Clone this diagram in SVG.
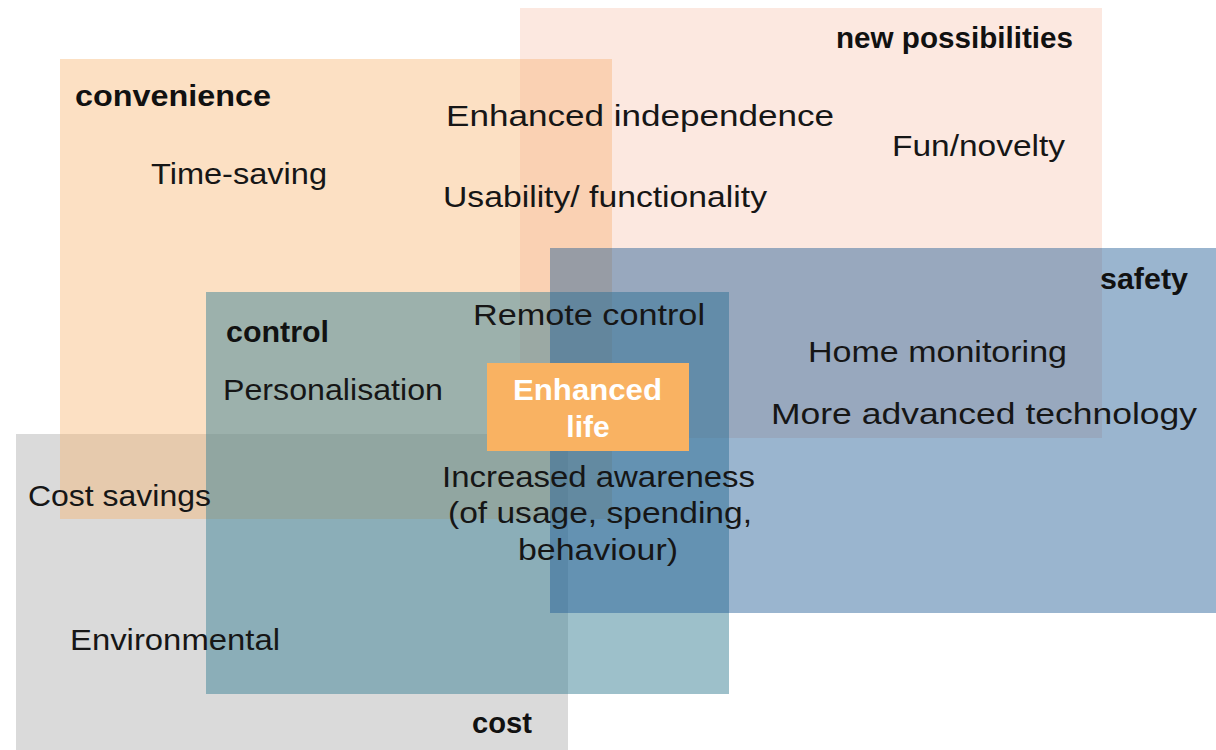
<svg xmlns="http://www.w3.org/2000/svg" width="1216" height="750" viewBox="0 0 1216 750">
  <style>
    .t { font-family: "Liberation Sans", Arial, sans-serif; font-size: 30px; fill: #161616; }
    .h { font-family: "Liberation Sans", Arial, sans-serif; font-size: 29px; font-weight: bold; fill: #111111; }
    .w { font-family: "Liberation Sans", Arial, sans-serif; font-size: 30px; font-weight: bold; fill: #ffffff; }
    .cost { fill: #dadada; }
    .convenience { fill: #f7b169; fill-opacity: 0.4; }
    .newposs { fill: #f5a583; fill-opacity: 0.25; }
    .control { fill: #3c8296; fill-opacity: 0.5; }
    .safety { fill: #1f5b95; fill-opacity: 0.45; }
    .core { fill: #f9b262; }
  </style>

  <rect width="1216" height="750" fill="#ffffff"/>

  <!-- overlapping benefit areas, bottom to top -->
  <g id="cost">
    <rect class="cost" x="16" y="434" width="552" height="316"/>
  </g>
  <g id="convenience">
    <rect class="convenience" x="60" y="59" width="552" height="460"/>
  </g>
  <g id="new-possibilities">
    <rect class="newposs" x="520" y="8" width="582" height="430"/>
  </g>
  <g id="control">
    <rect class="control" x="206" y="292" width="523" height="402"/>
  </g>
  <g id="safety">
    <rect class="safety" x="550" y="248" width="666" height="365"/>
  </g>
  <g id="enhanced-life">
    <rect class="core" x="487" y="363" width="202" height="88"/>
    <text class="w" x="513" y="400" textLength="149" lengthAdjust="spacingAndGlyphs">Enhanced</text>
    <text class="w" x="588" y="437" text-anchor="middle">life</text>
  </g>

  <!-- labels drawn above every area -->
  <g id="labels-new-possibilities">
    <text class="h" x="836" y="48" textLength="237" lengthAdjust="spacingAndGlyphs">new possibilities</text>
    <text class="t" x="446" y="126" textLength="388" lengthAdjust="spacingAndGlyphs">Enhanced independence</text>
    <text class="t" x="892" y="156" textLength="173" lengthAdjust="spacingAndGlyphs">Fun/novelty</text>
    <text class="t" x="443" y="207" textLength="324" lengthAdjust="spacingAndGlyphs">Usability/ functionality</text>
  </g>
  <g id="labels-convenience">
    <text class="h" x="75" y="106" textLength="196" lengthAdjust="spacingAndGlyphs">convenience</text>
    <text class="t" x="151" y="184" textLength="176" lengthAdjust="spacingAndGlyphs">Time-saving</text>
  </g>
  <g id="labels-safety">
    <text class="h" x="1100" y="289" textLength="88" lengthAdjust="spacingAndGlyphs">safety</text>
    <text class="t" x="808" y="362" textLength="259" lengthAdjust="spacingAndGlyphs">Home monitoring</text>
    <text class="t" x="771" y="424" textLength="426" lengthAdjust="spacingAndGlyphs">More advanced technology</text>
  </g>
  <g id="labels-control">
    <text class="h" x="226" y="342" textLength="103" lengthAdjust="spacingAndGlyphs">control</text>
    <text class="t" x="473" y="325" textLength="232" lengthAdjust="spacingAndGlyphs">Remote control</text>
    <text class="t" x="223" y="400" textLength="220" lengthAdjust="spacingAndGlyphs">Personalisation</text>
    <text class="t" x="442" y="487" textLength="313" lengthAdjust="spacingAndGlyphs">Increased awareness</text>
    <text class="t" x="448" y="523" textLength="304" lengthAdjust="spacingAndGlyphs">(of usage, spending,</text>
    <text class="t" x="518" y="560" textLength="160" lengthAdjust="spacingAndGlyphs">behaviour)</text>
  </g>
  <g id="labels-cost">
    <text class="t" x="28" y="506" textLength="183" lengthAdjust="spacingAndGlyphs">Cost savings</text>
    <text class="t" x="70" y="650" textLength="210" lengthAdjust="spacingAndGlyphs">Environmental</text>
    <text class="h" x="472" y="733" textLength="60" lengthAdjust="spacingAndGlyphs">cost</text>
  </g>
</svg>
